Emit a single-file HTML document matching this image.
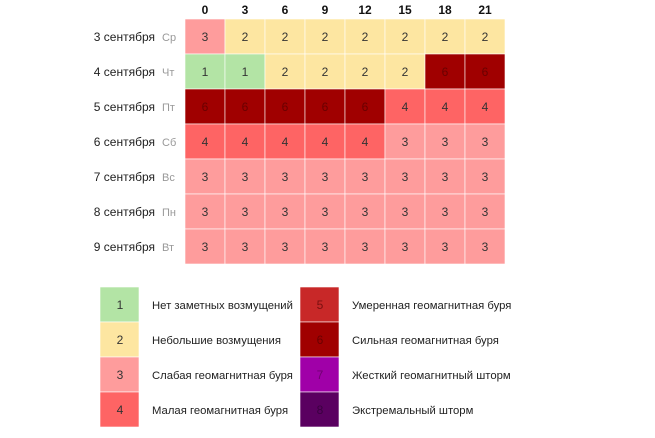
<!DOCTYPE html>
<html><head><meta charset="utf-8"><style>
body{margin:0;background:#fff;font-family:"Liberation Sans",sans-serif;}
svg text{font-family:"Liberation Sans",sans-serif;}
</style></head><body>
<svg id="c" width="655" height="433"></svg>
<script>
const hours=["0","3","6","9","12","15","18","21"];
const days=["3 сентября","4 сентября","5 сентября","6 сентября","7 сентября","8 сентября","9 сентября"];
const weekdays=["Ср","Чт","Пт","Сб","Вс","Пн","Вт"];
const row0=[3,2,2,2,2,2,2,2];
const row1=[1,1,2,2,2,2,6,6];
const row2=[6,6,6,6,6,4,4,4];
const row3=[4,4,4,4,4,3,3,3];
const row4=[3,3,3,3,3,3,3,3];
const row5=[3,3,3,3,3,3,3,3];
const row6=[3,3,3,3,3,3,3,3];
const levels=[1,2,3,4,5,6,7,8];
const levelLabels=["Нет заметных возмущений","Небольшие возмущения","Слабая геомагнитная буря","Малая геомагнитная буря","Умеренная геомагнитная буря","Сильная геомагнитная буря","Жесткий геомагнитный шторм","Экстремальный шторм"];
const rows=[row0,row1,row2,row3,row4,row5,row6];
const colors={1:"#b3e4a5",2:"#fde6a1",3:"#fe9c9c",4:"#fe6464",5:"#c82828",6:"#a00000",7:"#a000a8",8:"#5a0060"};
const tcol={1:"#333",2:"#333",3:"#333",4:"#333",5:"#7a1010",6:"#6a0000",7:"#700070",8:"#3a0040"};
const NS="http://www.w3.org/2000/svg";
const svg=document.getElementById('c');
const x=i=>185+i*40, y=j=>19+j*35;
function el(t,a,txt){const e=document.createElementNS(NS,t);for(const k in a)e.setAttribute(k,a[k]);if(txt!==undefined)e.textContent=txt;svg.appendChild(e);return e;}
hours.forEach((h,i)=>{const t=el('text',{x:x(i)+20,y:14,'text-anchor':'middle','font-size':12,'font-weight':'bold',fill:'#111'},h);

});
days.forEach((d,j)=>{const t=el('text',{x:155,y:y(j)+22,'text-anchor':'end','font-size':12,fill:'#222'},d);


const w=el('text',{x:162,y:y(j)+22,'font-size':11,fill:'#999'},weekdays[j]);

});
rows.forEach((r,j)=>r.forEach((v,i)=>{const c=el('rect',{x:x(i),y:y(j),width:40,height:35,fill:colors[v],stroke:'#fff','stroke-width':0.6});


const t=el('text',{x:x(i)+20,y:y(j)+22,'text-anchor':'middle','font-size':12,fill:tcol[v]},v);

}));
levels.forEach((l,k)=>{const col=Math.floor(k/4),r=k%4;const bx=100+col*200,by=287+r*35;
const t=el('text',{x:bx+52,y:by+22,'font-size':11.3,fill:'#222'},levelLabels[k]);


const b=el('rect',{x:bx,y:by,width:39,height:35,fill:colors[l],stroke:'#fff','stroke-width':0.6});


const n=el('text',{x:bx+20,y:by+22,'text-anchor':'middle','font-size':12,fill:tcol[l]},l);

});
</script>
</body></html>
